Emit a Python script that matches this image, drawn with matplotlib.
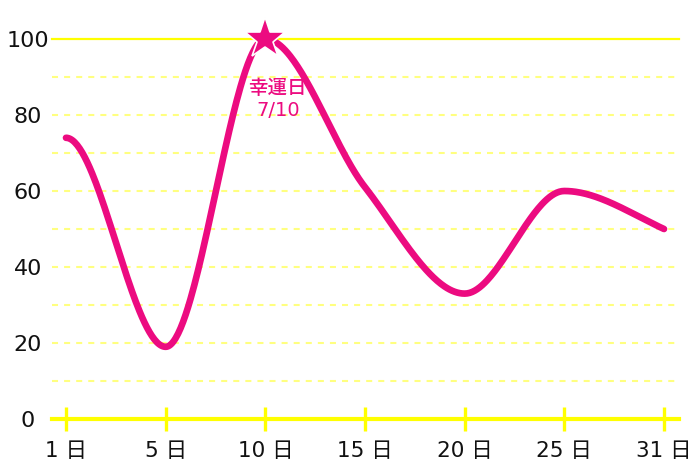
import numpy as np
import matplotlib
matplotlib.use("Agg")
import matplotlib.pyplot as plt

plt.rcParams['font.family'] = ['DejaVu Sans', 'Noto Sans CJK JP']

# ---- data ----
days = ['1 日', '5 日', '10 日', '15 日', '20 日', '25 日', '31 日']
values = [74, 19, 100, 61, 33, 60, 50]
y_ticks = [0, 20, 40, 60, 80, 100]
grid_levels = [10, 20, 30, 40, 50, 60, 70, 80, 90]
lucky_index = 2
lucky_title = '幸運日'
lucky_date = '7/10'

PINK = '#ec0b80'
YELLOW = '#ffff00'
PALE = '#ffff80'
INK = '#111111'


def smooth_curve(y, n=80, end_factor=1.2):
    """Monotone cubic Hermite (d3 style slopes) with flat start."""
    y = np.asarray(y, float)
    d = np.diff(y)
    m = np.zeros_like(y)
    for i in range(1, len(y) - 1):
        s0, s1 = d[i - 1], d[i]
        p = 0.5 * (s0 + s1)
        m[i] = (np.sign(s0) + np.sign(s1)) * min(abs(s0), abs(s1), 0.5 * abs(p))
    m[0] = 0.0
    m[-1] = end_factor * d[-1]
    xs, ys = [], []
    for i in range(len(y) - 1):
        t = np.linspace(0, 1, n, endpoint=(i == len(y) - 2))
        h00 = 2 * t**3 - 3 * t**2 + 1
        h10 = t**3 - 2 * t**2 + t
        h01 = -2 * t**3 + 3 * t**2
        h11 = t**3 - t**2
        xs.append(i + t)
        ys.append(h00 * y[i] + h10 * m[i] + h01 * y[i + 1] + h11 * m[i + 1])
    return np.concatenate(xs), np.concatenate(ys)


fig = plt.figure(figsize=(7, 4.67), dpi=100)
ax = fig.add_axes([52 / 700, 48 / 467, 627 / 700, 380 / 467])
n = len(days)
ax.set_xlim(-14 / 99.67, (n - 1) + 15 / 99.67)
ax.set_ylim(0, 100)

for s in ['top', 'left', 'right']:
    ax.spines[s].set_visible(False)
ax.spines['bottom'].set_color(YELLOW)
ax.spines['bottom'].set_linewidth(3)
ax.spines['bottom'].set_zorder(2)

# grid lines
for g in grid_levels:
    ax.axhline(g, color=PALE, lw=1.5, linestyle=(0, (2.9, 2.9)), zorder=1)
ax.axhline(100, color=YELLOW, lw=1.6, zorder=1, clip_on=False)

# ticks
ax.set_xticks(range(n))
ax.set_xticklabels(days)
ax.tick_params(axis='x', colors=YELLOW, width=2.4, length=17.3,
               direction='inout', pad=7, labelcolor=INK, labelsize=15.5)
ax.set_yticks(y_ticks)
ax.set_yticklabels([str(v) for v in y_ticks])
ax.tick_params(axis='y', length=0, pad=17.5, labelcolor=INK, labelsize=16)
for lab in ax.get_yticklabels():
    lab.set_horizontalalignment('center')

# curve
cx, cy = smooth_curve(values)
ax.plot(cx, cy, color=PINK, lw=4.8, solid_capstyle='round', zorder=3, clip_on=False)

# lucky day star + label
ax.plot([lucky_index], [values[lucky_index]], marker='*', markersize=31,
        color=PINK, markeredgecolor='white', markeredgewidth=1.2,
        zorder=4, clip_on=False, linestyle='none')
ax.annotate(lucky_title, (lucky_index, values[lucky_index]), xytext=(9, -35.5),
            textcoords='offset points', ha='center', va='center',
            color=PINK, fontsize=14, fontweight='medium', zorder=5)
ax.annotate(lucky_date, (lucky_index, values[lucky_index]), xytext=(9, -51.5),
            textcoords='offset points', ha='center', va='center',
            color=PINK, fontsize=14, zorder=5)

fig.savefig('out.png', dpi=100)
